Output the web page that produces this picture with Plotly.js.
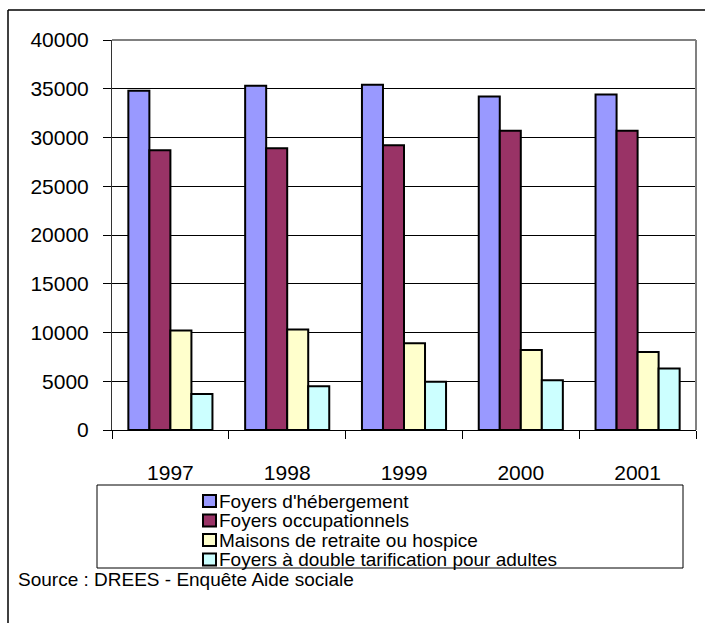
<!DOCTYPE html>
<html>
<head>
<meta charset="utf-8">
<script src="https://cdn.plot.ly/plotly-3.0.1.min.js"></script>
<style>
html,body{margin:0;padding:0;background:#fff;}
#chart{width:705px;height:623px;}
</style>
</head>
<body>
<div id="chart"></div>
<script>
const years = ['1997', '1998', '1999', '2000', '2001'];
const seriesNames = [
  "Foyers d'hébergement",
  "Foyers occupationnels",
  "Maisons de retraite ou hospice",
  "Foyers à double tarification pour adultes"
];
const foyersHebergement = [34800, 35300, 35400, 34200, 34400];
const foyersOccupationnels = [28700, 28900, 29200, 30700, 30700];
const maisonsRetraite = [10200, 10300, 8900, 8200, 8000];
const foyersDoubleTarif = [3700, 4500, 4950, 5100, 6300];
const colors = ['#9999FF', '#993366', '#FFFFCC', '#CCFFFF'];
const yTicks = [0, 5000, 10000, 15000, 20000, 25000, 30000, 35000, 40000];
const sourceText = 'Source : DREES - Enquête Aide sociale';

const FONT = '"Liberation Sans Narrow", "Arial Narrow", "Liberation Sans", Arial, sans-serif';
const allValues = [foyersHebergement, foyersOccupationnels, maisonsRetraite, foyersDoubleTarif];

const traces = allValues.map((vals, i) => ({
  type: 'bar',
  name: seriesNames[i],
  x: years,
  y: vals,
  marker: {color: colors[i], line: {color: '#000', width: 2}},
  hoverinfo: 'x+y+name'
}));

// plot area geometry in pixels
const W = 705, H = 623, L = 112, R = 696, T = 40, B = 430;
const px = x => (x - L) / (R - L);
const py = y => (B - y) / (B - T);

const shapes = [
  // plot area gray border top & right
  {type: 'line', xref: 'paper', yref: 'paper', x0: 0, x1: 1, y0: 1, y1: 1, line: {color: '#808080', width: 2}},
  {type: 'line', xref: 'paper', yref: 'paper', x0: 1, x1: 1, y0: 0, y1: 1, line: {color: '#808080', width: 2}},
  // outer frame (top & left visible)
  {type: 'line', xref: 'paper', yref: 'paper', x0: px(8), x1: px(720), y0: py(10), y1: py(10), line: {color: '#000', width: 1.5}},
  {type: 'line', xref: 'paper', yref: 'paper', x0: px(8), x1: px(8), y0: py(10), y1: py(640), line: {color: '#000', width: 1.5}},
  // legend box
  {type: 'rect', xref: 'paper', yref: 'paper', x0: px(97), x1: px(683), y0: py(485), y1: py(568), line: {color: '#000', width: 1}, fillcolor: 'rgba(0,0,0,0)'}
];
const annotations = [
  {xref: 'paper', yref: 'paper', x: px(16), y: py(579), xanchor: 'left', yanchor: 'middle',
   text: sourceText, showarrow: false,
   font: {family: FONT, size: 19, color: '#000'}}
];
// legend entries (swatch + label)
const legY = [500, 519.5, 539, 558.5];
seriesNames.forEach((name, i) => {
  const cy = legY[i];
  shapes.push({type: 'rect', xref: 'paper', yref: 'paper',
    x0: px(203), x1: px(216), y0: py(cy - 5), y1: py(cy + 7),
    fillcolor: colors[i], line: {color: '#000', width: 2}});
  annotations.push({xref: 'paper', yref: 'paper', x: px(217), y: py(cy + 1),
    xanchor: 'left', yanchor: 'middle', text: name, showarrow: false,
    font: {family: FONT, size: 19, color: '#000'}});
});

const layout = {
  width: W, height: H,
  margin: {l: L, r: W - R, t: T, b: H - B, pad: 0},
  paper_bgcolor: '#fff',
  plot_bgcolor: '#fff',
  barmode: 'group',
  bargap: 0.28,
  bargroupgap: 0,
  showlegend: false,
  font: {family: FONT, color: '#000', size: 21},
  xaxis: {
    type: 'category',
    tickson: 'boundaries',
    ticks: 'outside',
    ticklen: 8,
    tickcolor: '#000',
    tickwidth: 1,
    showgrid: false,
    showline: true,
    linecolor: '#000',
    linewidth: 1,
    ticklabelstandoff: 24,
    tickfont: {family: FONT, size: 21, color: '#000'},
    fixedrange: true
  },
  yaxis: {
    range: [0, 40000],
    tickvals: yTicks,
    ticktext: yTicks.map(String),
    ticks: 'outside',
    ticklen: 8,
    tickcolor: '#000',
    showgrid: true,
    gridcolor: '#000',
    gridwidth: 1,
    showline: true,
    linecolor: '#333',
    linewidth: 1,
    zeroline: false,
    ticklabelstandoff: 10,
    tickfont: {family: FONT, size: 21, color: '#000'},
    fixedrange: true
  },
  shapes: shapes,
  annotations: annotations
};

Plotly.newPlot('chart', traces, layout, {displayModeBar: false, staticPlot: true});
</script>
</body>
</html>
